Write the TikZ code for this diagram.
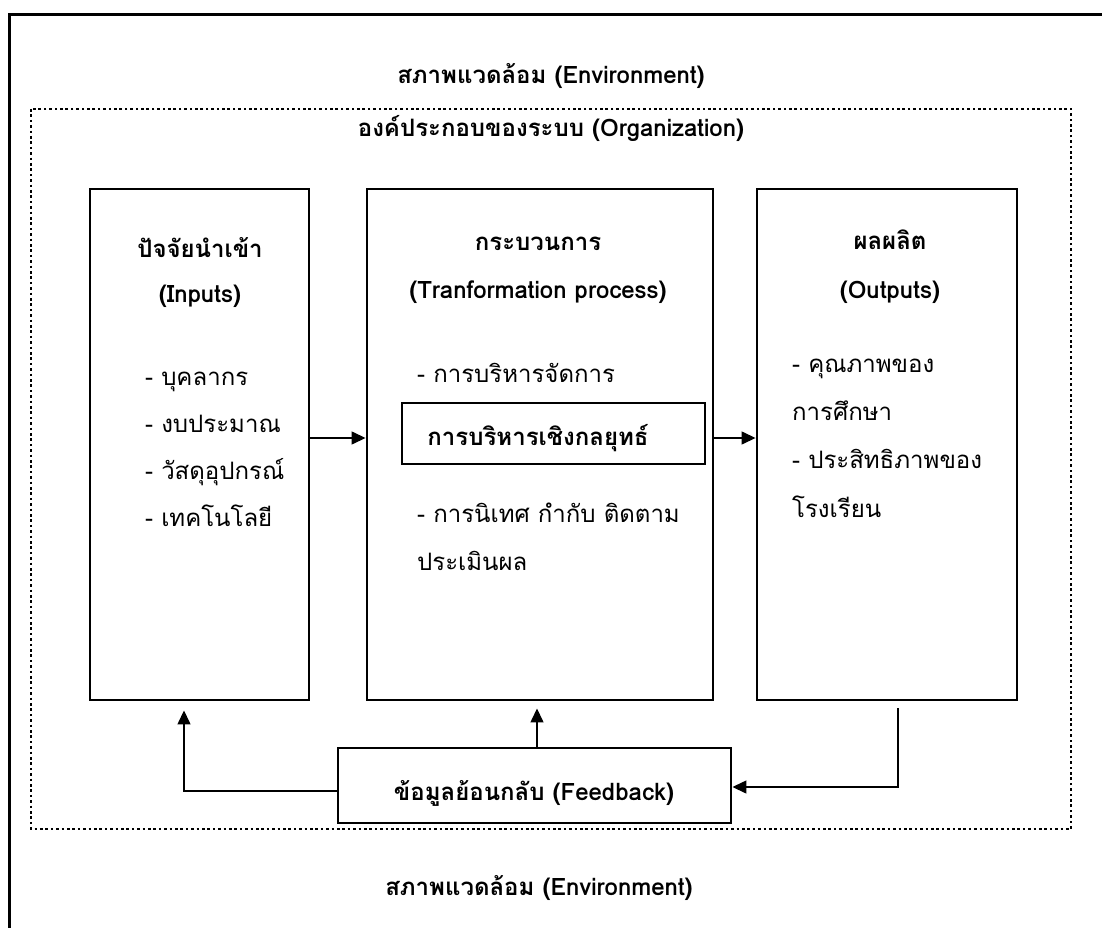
\documentclass[tikz,border=0pt]{standalone}
\usepackage{fontspec}
\setmainfont[Script=Thai]{Loma}
\usetikzlibrary{arrows.meta}
\begin{document}
\begin{tikzpicture}[x=1pt,y=-1pt,
  box/.style={draw, line width=2.9pt, inner sep=0pt},
  conn/.style={line width=1.4pt, -{Triangle[length=14pt,width=13pt]}},
  ttl/.style={font=\bfseries\fontsize{24}{28}\selectfont, anchor=base, inner sep=0pt},
  itm/.style={font=\fontsize{24}{28}\selectfont, anchor=base west, inner sep=0pt},
  ]
\useasboundingbox (0,0) rectangle (1102,928);
\draw[line width=3pt] (9,928) -- (9,15) -- (1102,15);
\draw[line width=2.8pt, dash pattern=on 2.6pt off 2.8pt] (31,109) rectangle (1071,829);

\node[box, minimum width=219pt, minimum height=511pt] (in) at (199.5,444.5) {};
\node[box, minimum width=346pt, minimum height=511pt] (pr) at (540,444.5) {};
\node[box, minimum width=260pt, minimum height=511pt] (out) at (887,444.5) {};
\node[draw, line width=1.5pt, minimum width=303pt, minimum height=61pt, inner sep=0pt] (st) at (553.5,433.5) {};
\node[box, minimum width=393pt, minimum height=75pt] (fb) at (534.5,785.5) {};

\node[ttl] (env1) at (551,84) {สภาพแวดล้อม (Environment)};
\node[ttl] (org) at (551,137) {องค์ประกอบของระบบ (Organization)};
\node[ttl] (env2) at (539,895) {สภาพแวดล้อม (Environment)};

\node[ttl] (int1) at (200,257) {ปัจจัยนำเข้า};
\node[ttl] (int2) at (200,302) {(Inputs)};
\node[itm] (i1) at (145,385) {- บุคลากร};
\node[itm] (i2) at (145,432) {- งบประมาณ};
\node[itm] (i3) at (145,479) {- วัสดุอุปกรณ์};
\node[itm] (i4) at (145,526) {- เทคโนโลยี};

\node[ttl] (prt1) at (538,250) {กระบวนการ};
\node[ttl] (prt2) at (538,298) {(Tranformation process)};
\node[itm] (p1) at (417,382) {- การบริหารจัดการ};
\node[ttl] (stt) at (538,445) {การบริหารเชิงกลยุทธ์};
\node[itm] (p2) at (417,522) {- การนิเทศ กำกับ ติดตาม};
\node[itm] (p3) at (417,570) {ประเมินผล};

\node[ttl] (ot1) at (890,249) {ผลผลิต};
\node[ttl] (ot2) at (890,298) {(Outputs)};
\node[itm] (o1) at (792,372) {- คุณภาพของ};
\node[itm] (o2) at (792,420) {การศึกษา};
\node[itm] (o3) at (792,468) {- ประสิทธิภาพของ};
\node[itm] (o4) at (792,517) {โรงเรียน};

\node[ttl] (fbt) at (534,800) {ข้อมูลย้อนกลับ (Feedback)};

\draw[conn] ([yshift=6.5pt]in.east) -- ([yshift=6.5pt]pr.west);
\draw[conn] ([yshift=6.5pt]pr.east) -- ([yshift=6.5pt]out.west);
\draw[conn] ([yshift=-5.5pt]fb.west) -| ([xshift=-15.5pt,yshift=-9pt]in.south);
\draw[conn] ([xshift=2.5pt]fb.north) -- ([xshift=-3pt,yshift=-7pt]pr.south);
\draw[conn] ([xshift=11pt,yshift=-7pt]out.south) |- ([yshift=-1.5pt]fb.east);
\end{tikzpicture}
\end{document}
